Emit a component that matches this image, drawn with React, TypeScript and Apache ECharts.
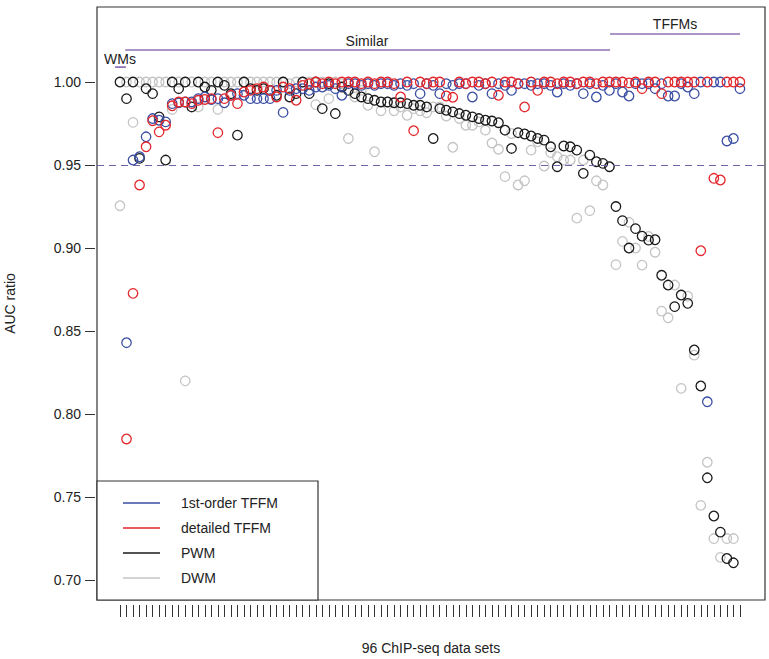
import React, { useEffect, useRef } from "react";
import * as echarts from "echarts";

// 96 ChIP-seq data sets, AUC ratios per method (null = not visible)
const firstOrderTFFM: (number | null)[] = [
  null, 0.843, 0.953, 0.955, 0.967, 0.978, 0.977, 0.976, 0.987, 0.9875,
  0.988, 0.988, 0.990, 0.991, 0.9895, 0.990, 0.9875, 0.992, 0.993, 0.992,
  0.990, 0.990, 0.990, 0.990, 0.995, 0.9817, 0.995, 0.996, 0.996, 0.995,
  0.997, 0.997, 0.998, 0.996, 0.992, 0.999, 0.999, 0.998, 0.999, 0.998,
  0.999, 0.999, 0.998, 0.999, 0.998, 0.999, 0.993, 0.999, 0.998, 0.993,
  0.999, 0.998, 0.999, 0.999, 0.991, 0.998, 0.999, 0.993, 0.999, 0.998,
  0.995, 0.999, 0.999, 0.998, 0.999, 0.999, 0.998, 0.994, 0.999, 0.998,
  0.999, 0.993, 0.999, 0.991, 0.998, 0.995, 0.999, 0.994, 0.9916, 0.999,
  0.999, 0.999, 0.996, 0.999, 0.9916, 0.9916, 0.999, 0.997, 0.993, 1.000,
  0.8074, 1.000, 1.000, 0.9645, 0.966, 0.996,
];

const detailedTFFM: (number | null)[] = [
  null, 0.785, 0.8727, 0.938, 0.961, 0.9767, 0.970, 0.974, 0.9857, 0.988,
  0.988, 0.987, 0.989, 0.9895, 0.990, 0.9695, 0.990, 0.992, 0.987, 0.994,
  0.995, 0.996, 0.997, 0.995, 0.991, 0.997, 0.996, 0.989, 0.998, 0.999,
  1.000, 0.999, 1.000, 0.999, 1.000, 1.000, 1.000, 0.999, 1.000, 0.999,
  1.000, 1.000, 0.999, 0.991, 1.000, 0.9707, 1.000, 0.999, 1.000, 1.000,
  0.9916, 0.9908, 1.000, 0.999, 1.000, 1.000, 0.999, 1.000, 0.992, 1.000,
  1.000, 0.999, 0.985, 1.000, 0.995, 1.000, 1.000, 0.999, 1.000, 1.000,
  0.999, 1.000, 1.000, 0.999, 1.000, 1.000, 1.000, 1.000, 0.9995, 1.000,
  0.996, 1.000, 1.000, 0.993, 1.000, 1.000, 1.000, 1.000, 1.000, 0.8984,
  1.000, 0.942, 0.941, 1.000, 1.000, 1.000,
];

const pwm: (number | null)[] = [
  1.000, 0.990, 1.000, 0.954, 0.996, 0.993, 0.979, 0.953, 1.000, 0.996,
  1.000, 0.985, 1.000, 0.997, 0.995, 1.000, 0.998, 0.993, 0.968, 1.000,
  0.996, 0.995, 0.996, 0.995, 0.992, 1.000, 0.991, 0.993, 1.000, 0.993,
  1.000, 0.984, 0.999, 0.981, 0.997, 0.995, 0.993, 0.991, 0.990, 0.989,
  0.988, 0.988, 0.9875, 0.9875, 0.987, 0.986, 0.986, 0.985, 0.966, 0.984,
  0.983, 0.982, 0.981, 0.980, 0.979, 0.978, 0.977, 0.9765, 0.9755, 0.971,
  0.960, 0.9695, 0.9687, 0.9675, 0.966, 0.965, 0.961, 0.949, 0.9615, 0.961,
  0.959, 0.945, 0.956, 0.952, 0.951, 0.949, 0.925, 0.9165, 0.900, 0.9117,
  0.9072, 0.9048, 0.905, 0.8836, 0.8777, 0.8647, 0.8717, 0.8667, 0.8386, 0.8169,
  0.7616, 0.7386, 0.7289, 0.713, 0.7104, null,
];

const dwm: (number | null)[] = [
  0.9255, 1.000, 0.9757, 1.000, 1.000, 1.000, 1.000, 1.000, 0.9835, 1.000,
  0.820, 1.000, 0.985, 1.000, 1.000, 0.9835, 1.000, 1.000, 1.000, 1.000,
  1.000, 1.000, 1.000, 1.000, 1.000, 1.000, 0.999, 1.000, 1.000, 1.000,
  0.9864, 1.000, 0.990, 1.000, 0.999, 0.966, 0.991, 0.995, 0.986, 0.958,
  0.9827, 0.988, 0.9827, 0.985, 0.980, 0.984, 0.9827, 0.9815, 0.985, 0.985,
  0.9795, 0.9607, 0.978, 0.974, 0.974, 0.976, 0.971, 0.9633, 0.9595, 0.943,
  0.969, 0.938, 0.9405, 0.959, 0.964, 0.9494, 0.9575, 0.955, 0.953, 0.953,
  0.918, 0.953, 0.9225, 0.9405, 0.938, 0.949, 0.890, 0.904, 0.9155, 0.900,
  0.8897, 0.907, 0.8975, 0.862, 0.858, 0.8777, 0.8155, 0.871, 0.8355, 0.745,
  0.771, 0.725, 0.7137, 0.725, 0.725, null,
];

const yTicks = [0.7, 0.75, 0.8, 0.85, 0.9, 0.95, 1.0];
const threshold = 0.95;

// group spans (dataset index from, to, level) and their labels
const groupNames = ["WMs", "Similar", "TFFMs"];
const groupFrom = [0.25, 1.8, 76.1];
const groupTo = [1.9, 76.1, 96.0];
const groupLevel = [1.009, 1.0193, 1.0289];

const legendNames = ["1st-order TFFM", "detailed TFFM", "PWM", "DWM"];
const colors = ["#3a4ea3", "#e3262b", "#1a1a1a", "#c4c4c4"];

const FONT = "'Liberation Sans', Arial, Helvetica, sans-serif";

export default function App() {
  const ref = useRef<HTMLDivElement>(null);

  useEffect(() => {
    if (!ref.current) return;
    const chart = echarts.init(ref.current, undefined, { renderer: "svg" });
    const nSets = pwm.length;
    const idx = Array.from({ length: nSets }, (_, k) => k + 1);
    const toPts = (arr: (number | null)[]) =>
      idx.map((i, k) => (arr[k] == null ? [i, null] : [i, arr[k]]));

    const scatter = (name: string, arr: (number | null)[], color: string, z: number) => ({
      name,
      type: "scatter",
      data: toPts(arr),
      symbol: "circle",
      symbolSize: 9.5,
      z,
      itemStyle: { color: "rgba(0,0,0,0)", borderColor: color, borderWidth: 1.3, opacity: 1 },
      emphasis: { disabled: true },
      silent: true,
    });

    const groupSeries = groupNames.map((g, k) => ({
      name: g,
      type: "line",
      data: [
        [groupFrom[k], groupLevel[k]],
        [groupTo[k], groupLevel[k]],
      ],
      symbol: "none",
      lineStyle: { color: "#8f72b4", width: 1.6 },
      silent: true,
      z: 1,
    }));

    const legendTop = 503;
    const legendStep = 25;
    const legendGraphics: any[] = [
      {
        type: "rect",
        shape: { x: 97, y: 481, width: 221, height: 119 },
        style: { fill: "#fff", stroke: "#333", lineWidth: 1.2 },
        z: 100,
      },
    ];
    legendNames.forEach((n, k) => {
      const y = legendTop + k * legendStep;
      legendGraphics.push({
        type: "line",
        shape: { x1: 123, y1: y, x2: 160, y2: y },
        style: { stroke: colors[k], lineWidth: 1.3 },
        z: 101,
      });
      legendGraphics.push({
        type: "text",
        x: 181,
        y,
        style: { text: n, fill: "#222", font: `14px ${FONT}`, verticalAlign: "middle", textAlign: "left" },
        z: 101,
      });
    });

    const annot: any[] = [
      { type: "text", x: 104, y: 59, style: { text: groupNames[0], fill: "#222", font: `14px ${FONT}`, textAlign: "left", verticalAlign: "middle" } },
      { type: "text", x: 367, y: 41, style: { text: groupNames[1], fill: "#222", font: `14px ${FONT}`, textAlign: "center", verticalAlign: "middle" } },
      { type: "text", x: 675, y: 24, style: { text: groupNames[2], fill: "#222", font: `14px ${FONT}`, textAlign: "center", verticalAlign: "middle" } },
    ];

    chart.setOption({
      animation: false,
      backgroundColor: "#fff",
      textStyle: { fontFamily: FONT },
      grid: {
        left: 97,
        top: 7,
        width: 668,
        height: 593,
        show: true,
        borderColor: "#333",
        borderWidth: 1.2,
        backgroundColor: "transparent",
        containLabel: false,
        outerBoundsMode: "none",
      },
      xAxis: {
        type: "value",
        min: -2.52,
        max: 99.84,
        offset: 5,
        axisLine: { show: false, onZero: false },
        splitLine: { show: false },
        axisTick: { show: true, inside: false, length: 12, lineStyle: { color: "#333", width: 1 }, customValues: idx },
        axisLabel: { show: false },
        name: "96 ChIP-seq data sets",
        nameLocation: "middle",
        nameGap: 36,
        nameTextStyle: { fontSize: 14, color: "#222", fontFamily: FONT },
      },
      yAxis: {
        type: "value",
        min: 0.688,
        max: 1.0452,
        offset: 2,
        axisLine: { show: false, onZero: false },
        splitLine: { show: false },
        axisTick: { show: true, inside: false, length: 10, lineStyle: { color: "#333", width: 1 }, customValues: yTicks },
        axisLabel: {
          show: true,
          customValues: yTicks,
          formatter: (v: number) => v.toFixed(2),
          fontSize: 14,
          color: "#222",
          margin: 14,
          fontFamily: FONT,
        },
        name: "AUC ratio",
        nameLocation: "middle",
        nameRotate: 90,
        nameGap: 78,
        nameTextStyle: { fontSize: 14, color: "#222", fontFamily: FONT },
      },
      series: [
        {
          name: "threshold",
          type: "line",
          data: [],
          silent: true,
          markLine: {
            silent: true,
            symbol: "none",
            label: { show: false },
            lineStyle: { color: "#7462a8", type: [7, 5], width: 1.2 },
            data: [{ yAxis: threshold }],
          },
        },
        ...groupSeries,
        scatter(legendNames[3], dwm, colors[3], 2),
        scatter(legendNames[2], pwm, colors[2], 3),
        scatter(legendNames[0], firstOrderTFFM, colors[0], 4),
        scatter(legendNames[1], detailedTFFM, colors[1], 5),
      ],
      graphic: [...annot, ...legendGraphics],
    });

    return () => chart.dispose();
  }, []);

  return (
    <div
      ref={ref}
      style={{ position: "fixed", left: 0, top: 0, width: 769, height: 659, background: "#fff" }}
    />
  );
}
